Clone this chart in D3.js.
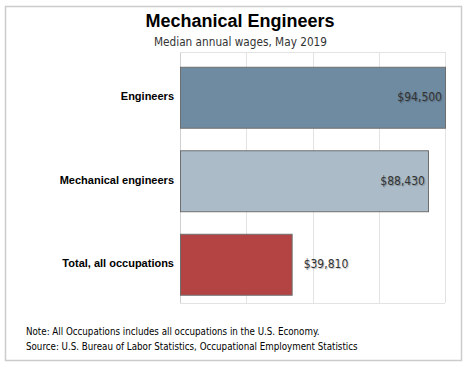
<!DOCTYPE html>
<html><head><meta charset="utf-8">
<script src="https://cdn.jsdelivr.net/npm/d3@7"></script>
<style>
html,body{margin:0;padding:0;background:#fff;}
svg{display:block;}
</style></head>
<body>
<script>
const categories = ["Engineers", "Mechanical engineers", "Total, all occupations"];
const wages = [94500, 88430, 39810];
const valueLabels = ["$94,500", "$88,430", "$39,810"];
const barColors = ["#6f8ba1", "#abbcc8", "#b44444"];
const title = "Mechanical Engineers";
const subtitle = "Median annual wages, May 2019";
const notes = ["Note: All Occupations includes all occupations in the U.S. Economy.",
               "Source: U.S. Bureau of Labor Statistics, Occupational Employment Statistics"];

const W = 467, H = 365;
const svg = d3.select("body").append("svg").attr("width", W).attr("height", H);

svg.append("rect").attr("x", 5.5).attr("y", 6.5).attr("width", 456).attr("height", 354)
  .attr("fill", "#fff").attr("stroke", "#cccccc").attr("stroke-width", 1.5);

const plot = {left: 180, right: 445, top: 52, bottom: 303};
const x = d3.scaleLinear().domain([0, d3.max(wages)]).range([plot.left, plot.right]);
const y = d3.scaleBand().domain(categories).range([56, 306.5]).paddingInner(0.27).paddingOuter(0.135);

// gridlines
const ticks = d3.range(0, 5).map(i => d3.max(wages) * i / 4);
svg.append("g").selectAll("line").data(ticks.slice(1)).join("line")
  .attr("x1", d => Math.round(x(d)) + 0.5).attr("x2", d => Math.round(x(d)) + 0.5)
  .attr("y1", plot.top).attr("y2", plot.bottom)
  .attr("stroke", "#e3e3e3").attr("stroke-width", 1);
svg.append("line").attr("x1", plot.left + 0.5).attr("x2", plot.left + 0.5)
  .attr("y1", plot.top).attr("y2", plot.bottom).attr("stroke", "#d0d0d0");
svg.append("line").attr("x1", plot.left).attr("x2", plot.right)
  .attr("y1", plot.top + 0.5).attr("y2", plot.top + 0.5).attr("stroke", "#e3e3e3");
svg.append("line").attr("x1", plot.left).attr("x2", plot.right)
  .attr("y1", plot.bottom + 0.5).attr("y2", plot.bottom + 0.5).attr("stroke", "#e3e3e3");

// bars
svg.append("g").selectAll("rect").data(categories).join("rect")
  .attr("x", plot.left + 0.5)
  .attr("y", d => y(d))
  .attr("width", (d, i) => x(wages[i]) - plot.left)
  .attr("height", y.bandwidth())
  .attr("fill", (d, i) => barColors[i])
  .attr("stroke", "#6e6e6e").attr("stroke-width", 1);

// value labels
svg.append("g").selectAll("text").data(categories).join("text")
  .attr("x", (d, i) => i < 2 ? x(wages[i]) - 3 : x(wages[i]) + 12)
  .attr("y", d => y(d) + y.bandwidth() / 2 + 3.5)
  .attr("text-anchor", (d, i) => i < 2 ? "end" : "start")
  .attr("font-family", "DejaVu Sans Condensed, DejaVu Sans")
  .attr("font-size", 12).attr("fill", "#333")
  .style("text-shadow", "1px 1px 1px rgba(0,0,0,0.25)")
  .text((d, i) => valueLabels[i]);

// category labels
svg.append("g").selectAll("text").data(categories).join("text")
  .attr("x", 174)
  .attr("y", d => y(d) + y.bandwidth() / 2 + 2.5)
  .attr("text-anchor", "end")
  .attr("font-family", "Liberation Sans, Arial")
  .attr("font-weight", "bold").attr("font-size", 11).attr("fill", "#000")
  .text(d => d);

svg.append("text").attr("x", 240).attr("y", 27).attr("text-anchor", "middle")
  .attr("font-family", "Liberation Sans, Arial").attr("font-weight", "bold")
  .attr("font-size", 18).attr("fill", "#000").text(title);
svg.append("text").attr("x", 240.5).attr("y", 46).attr("text-anchor", "middle")
  .attr("font-family", "DejaVu Sans Condensed, DejaVu Sans")
  .attr("font-size", 11.7).attr("fill", "#333").text(subtitle);

svg.append("g").selectAll("text").data(notes).join("text")
  .attr("x", 26).attr("y", (d, i) => 334.5 + i * 15)
  .attr("font-family", "DejaVu Sans Condensed, DejaVu Sans")
  .attr("font-size", 9.7).attr("fill", "#000").text(d => d);
</script>
</body></html>
